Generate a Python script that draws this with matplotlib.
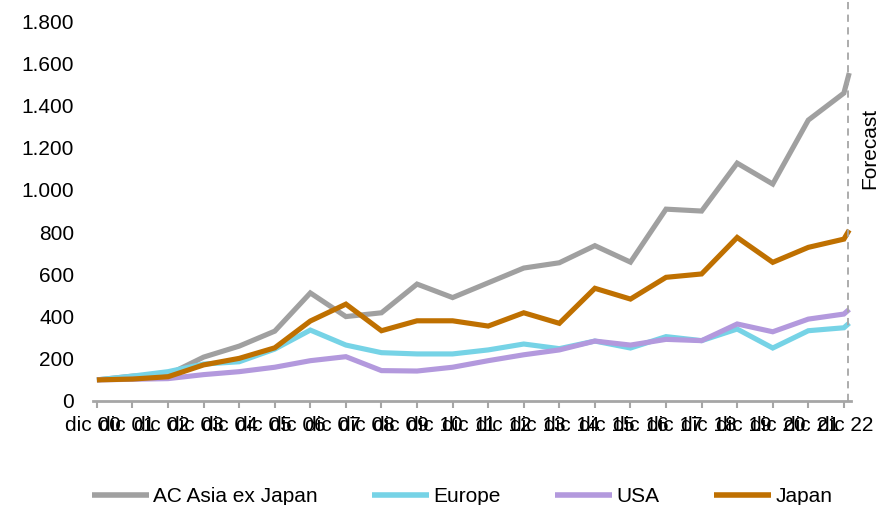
import matplotlib
matplotlib.use("Agg")
import matplotlib.pyplot as plt
import numpy as np
from matplotlib.ticker import FuncFormatter

plt.rcParams['font.family'] = ['Liberation Sans', 'DejaVu Sans']

# x positions: dic 00 .. dic 21 (annual) plus forecast point
x_years = list(range(22)) + [21.15]
x_labels = ["dic %02d" % y for y in range(0, 23)]

asia = [100, 118, 125, 208, 260, 331, 512, 400, 418, 554, 490, 560, 630, 655,
        736, 658, 909, 900, 1127, 1028, 1331, 1459, 1554]
europe = [100, 118, 139, 175, 186, 246, 336, 265, 229, 223, 223, 242, 270, 248,
          284, 251, 305, 286, 341, 251, 333, 347, 369]
usa = [100, 103, 106, 125, 139, 160, 191, 210, 144, 142, 160, 191, 219, 242,
       284, 265, 292, 286, 365, 328, 388, 412, 434]
japan = [100, 104, 115, 171, 202, 252, 379, 459, 333, 380, 380, 355, 418, 368,
         534, 483, 586, 602, 775, 657, 728, 767, 810]

series = [("AC Asia ex Japan", asia, "#A0A0A0"),
          ("Europe", europe, "#76D3E6"),
          ("USA", usa, "#B399DD"),
          ("Japan", japan, "#BF7000")]

FS = 15

fig = plt.figure(figsize=(8.78, 5.05), dpi=100)
ax = fig.add_axes([93 / 878, (505 - 401) / 505, (851 - 93) / 878, 401 / 505])

for name, vals, col in series:
    ax.plot(x_years, vals, color=col, lw=3.7, label=name, solid_joinstyle='miter',
            solid_capstyle='butt', clip_on=False)

ax.axvline(21.12, color="#A6A6A6", lw=1.3, ls=(0, (4, 3)), ymin=0, ymax=1)

ax.set_xlim(0, 21.2)
ax.set_ylim(0, 1900)
ax.set_yticks(np.arange(0, 1801, 200))
ax.yaxis.set_major_formatter(FuncFormatter(lambda v, p: "{:,.0f}".format(v).replace(",", ".")))
ax.tick_params(axis='y', length=0, pad=13.5, labelsize=FS)

ax.set_xticks(range(22))
ax.set_xticklabels([])
ax.tick_params(axis='x', which='major', length=5, width=1.5, color="#A6A6A6", direction='out')
label_pos = np.linspace(-0.11, 21.06, 23)
ax.set_xticks(label_pos, minor=True)
ax.set_xticklabels(x_labels, minor=True)
ax.tick_params(axis='x', which='minor', length=0, pad=10.5, labelsize=FS)

for s in ['top', 'right', 'left']:
    ax.spines[s].set_visible(False)
ax.spines['bottom'].set_color("#A6A6A6")
ax.spines['bottom'].set_linewidth(2)

fig.text(870 / 878, 1 - 148 / 505, "Forecast", rotation=90, ha='center', va='center', fontsize=FS)

leg = fig.legend(loc='lower center', bbox_to_anchor=(462 / 878, -0.04), ncol=4, frameon=False,
                 fontsize=FS, handlelength=2.75, handletextpad=0.2, columnspacing=2.6)
for h in leg.get_lines():
    h.set_linewidth(4)

fig.savefig("out.png", dpi=100)
